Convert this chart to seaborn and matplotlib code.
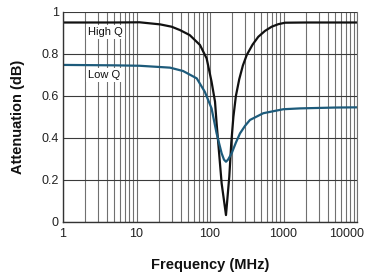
import matplotlib
matplotlib.use("Agg")
import matplotlib.pyplot as plt
import matplotlib.ticker as mticker
import matplotlib.transforms as mtransforms
import seaborn as sns
import pandas as pd

# Data
high_q_freq = [1, 5, 11, 21, 30, 39, 53, 73, 90, 105, 117, 123, 144, 165, 183, 195, 208, 225, 250, 280, 316, 380, 454, 560, 691, 850, 1050, 2000, 10000]
high_q_att = [0.95, 0.95, 0.951, 0.941, 0.93, 0.914, 0.890, 0.843, 0.779, 0.668, 0.573, 0.47, 0.184, 0.033, 0.216, 0.38, 0.50, 0.60, 0.68, 0.745, 0.795, 0.845, 0.882, 0.910, 0.930, 0.942, 0.949, 0.95, 0.95]

low_q_freq = [1, 5, 11, 28.6, 43, 66, 85, 105, 123, 144, 155, 165, 176, 197, 225, 256, 300, 350, 531, 994, 1676, 5000, 10000]
low_q_att = [0.748, 0.746, 0.744, 0.735, 0.719, 0.684, 0.620, 0.541, 0.422, 0.327, 0.297, 0.287, 0.297, 0.327, 0.378, 0.422, 0.458, 0.486, 0.518, 0.537, 0.541, 0.545, 0.546]

x_ticks = [1, 10, 100, 1000, 10000]
x_tick_labels = ["1", "10", "100", "1000", "10000"]
y_ticks = [0, 0.2, 0.4, 0.6, 0.8, 1.0]
y_tick_labels = ["0", "0.2", "0.4", "0.6", "0.8", "1"]

df = pd.concat([
    pd.DataFrame({"freq": high_q_freq, "att": high_q_att, "series": "High Q"}),
    pd.DataFrame({"freq": low_q_freq, "att": low_q_att, "series": "Low Q"}),
])

sns.set_theme(style="white")
plt.rcParams["font.family"] = ["Liberation Sans", "DejaVu Sans"]

fig = plt.figure(figsize=(3.69, 2.77), dpi=100)
ax = fig.add_axes([63 / 369, 1 - 222 / 277, (357 - 63) / 369, (222 - 12) / 277])

ax.set_xscale("log")
ax.set_xlim(1, 10000)
ax.set_ylim(0, 1)

# grid
ax.xaxis.set_minor_locator(mticker.LogLocator(base=10, subs=range(2, 10)))
ax.grid(which="major", axis="x", color="#707070", linewidth=0.8)
ax.grid(which="minor", axis="x", color="#707070", linewidth=0.8)
ax.grid(which="major", axis="y", color="#3a3a3a", linewidth=0.8)
ax.set_axisbelow(True)

sns.lineplot(data=df, x="freq", y="att", hue="series",
             palette={"High Q": "#111111", "Low Q": "#1d5b7b"},
             linewidth=1.6, legend=False, ax=ax, sort=False)

ax.set_xticks(x_ticks)
ax.set_xticklabels(x_tick_labels)
ax.xaxis.set_minor_formatter(mticker.NullFormatter())
ax.set_yticks(y_ticks)
ax.set_yticklabels(y_tick_labels)
ax.tick_params(axis="both", which="both", length=0, labelsize=9, colors="#222222")
ax.tick_params(axis="x", pad=4)
ax.tick_params(axis="y", pad=3)

# shift the last x tick label left so it fits, like the reference
last = ax.get_xticklabels()[-1]
last.set_transform(last.get_transform() + mtransforms.ScaledTranslation(-10 / 100, 0, fig.dpi_scale_trans))

ax.spines["top"].set_visible(False)
ax.spines["right"].set_color("#707070")
ax.spines["right"].set_linewidth(0.8)
ax.spines["left"].set_color("#333333")
ax.spines["bottom"].set_color("#333333")
ax.spines["left"].set_linewidth(1.0)
ax.spines["bottom"].set_linewidth(1.0)

ax.set_xlabel("Frequency (MHz)", fontsize=10.5, fontweight="bold", color="#111111", labelpad=13)
ax.set_ylabel("Attenuation (dB)", fontsize=10.5, fontweight="bold", color="#111111", labelpad=12)

ax.text(3.73, 0.905, "High Q", fontsize=8, ha="center", va="center", color="#111111",
        bbox=dict(facecolor="white", edgecolor="none", pad=1.5))
ax.text(3.67, 0.70, "Low Q", fontsize=8, ha="center", va="center", color="#111111",
        bbox=dict(facecolor="white", edgecolor="none", pad=1.5))

fig.savefig("out.png", dpi=100)
